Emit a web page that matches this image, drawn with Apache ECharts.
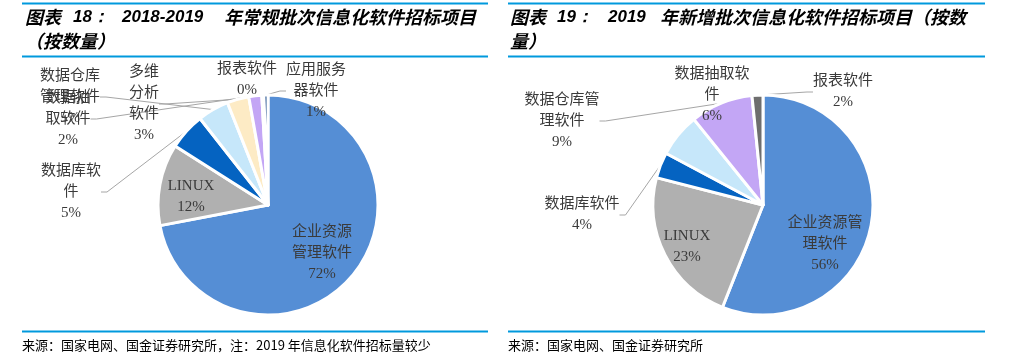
<!DOCTYPE html>
<html><head><meta charset="utf-8">
<script src="https://cdn.jsdelivr.net/npm/echarts@6/dist/echarts.min.js"></script>
<style>html,body{margin:0;padding:0;background:#fff}#c{width:1012px;height:355px}</style>
</head><body><div id="c"></div>
<script>
// ---- data ----
const leftNames = ['企业资源管理软件','LINUX','数据库软件','数据仓库管理软件','多维分析软件','数据抽取软件','报表软件','应用服务器软件'];
const leftValues = [72, 12, 5.4, 4.6, 3.2, 1.9, 0.3, 0.6];
const leftLabelText = ['企业资源\n管理软件','LINUX','数据库软\n件','数据仓库\n管理软件','多维\n分析\n软件','数据抽\n取软件','报表软件','应用服务\n器软件'];
const rightNames = ['企业资源管理软件','LINUX','数据库软件','数据抽取软件','数据仓库管理软件','报表软件'];
const rightValues = [56, 23, 3.8, 6.4, 9.2, 1.6];
const rightLabelText = ['企业资源管\n理软件','LINUX','数据库软件','数据抽取软\n件','数据仓库管\n理软件','报表软件'];
const leftTitle = ['图表','18：','2018-2019','年常规批次信息化软件招标项目','（按数量）'];
const rightTitle = ['图表','19：','2019','年新增批次信息化软件招标项目（按数','量）'];
const leftSource = '来源：国家电网、国金证券研究所，注：2019 年信息化软件招标量较少';
const rightSource = '来源：国家电网、国金证券研究所';

// ---- styles / layout ----
const leftColors = ['#558ED5','#B0B0B0','#0563C1','#C6E7FA','#FDEBC5','#C3A6F5','#8C8C8C','#1F4E8C'];
const rightColors = ['#558ED5','#B0B0B0','#0563C1','#C6E7FA','#C3A6F5','#6E6E6E'];
const leftLabelPos = [[322,253],[191,197],[71,192],[70,97],[144,104],[68,119],[247,80],[316,91]];
const rightLabelPos = [[825,244],[687,247],[582,215],[712,95],[562,121],[843,92]];
const leftNoLine = [0,1,6];
const rightNoLine = [0,1,3];
const blue = '#0099DD';
const labelFont = '"Liberation Serif", "Noto Sans CJK SC", serif';

function buildData(names, values, colors, texts, noLine) {
  return names.map((n, i) => ({
    name: n, value: values[i],
    itemStyle: { color: colors[i] },
    label: { position: noLine.indexOf(i) >= 0 ? 'inside' : 'outside', formatter: p => texts[p.dataIndex] + '\n' + Math.round(p.percent) + '%' },
    labelLine: { show: noLine.indexOf(i) < 0 }
  }));
}

function pieSeries(center, data, pos) {
  return {
    type: 'pie', center: center, radius: 110, startAngle: 90, clockwise: true,
    avoidLabelOverlap: false, animation: false,
    itemStyle: { borderColor: '#fff', borderWidth: 3 },
    label: { color: '#3a3a3a', fontSize: 15, fontFamily: labelFont, lineHeight: 21, align: 'center' },
    labelLine: { length: 10, length2: 6, lineStyle: { color: '#A6A6A6', width: 1 } },
    labelLayout: p => ({ x: pos[p.dataIndex][0], y: pos[p.dataIndex][1], align: 'center', verticalAlign: 'middle' }),
    emphasis: { disabled: true },
    data: data
  };
}

const cjkTitle = { fill: '#000', font: 'italic bold 18px "Noto Sans CJK SC"' };
const numTitle = { fill: '#000', font: 'italic bold 17px "Liberation Sans", Arial' };
function t(x, y, text, st) { return { type: 'text', x: x, y: y, style: Object.assign({ text: text, textVerticalAlign: 'middle' }, st) }; }
function ln(x1, y, x2) { return { type: 'line', shape: { x1: x1, y1: y, x2: x2, y2: y }, style: { stroke: blue, lineWidth: 2 } }; }

const graphics = [
  ln(22, 3.5, 488), ln(22, 56.5, 488), ln(508, 3.5, 985), ln(508, 56.5, 985),
  ln(22, 331.5, 488), ln(508, 331.5, 985),
  t(25, 17, leftTitle[0], cjkTitle), t(73, 17, leftTitle[1], numTitle), t(122, 17, leftTitle[2], numTitle),
  t(224, 17, leftTitle[3], cjkTitle), t(25, 41, leftTitle[4], cjkTitle),
  t(510, 17, rightTitle[0], cjkTitle), t(557, 17, rightTitle[1], numTitle), t(608, 17, rightTitle[2], numTitle),
  t(660, 17, rightTitle[3], cjkTitle), t(510, 41, rightTitle[4], cjkTitle),
  t(22, 345, leftSource, { fill: '#000', font: '13px "Noto Sans CJK SC"' }),
  t(508, 345, rightSource, { fill: '#000', font: '13px "Noto Sans CJK SC"' })
];

const chart = echarts.init(document.getElementById('c'), null, { renderer: 'canvas' });
chart.setOption({
  backgroundColor: '#fff',
  animation: false,
  graphic: graphics,
  series: [
    pieSeries([268, 205], buildData(leftNames, leftValues, leftColors, leftLabelText, leftNoLine), leftLabelPos),
    pieSeries([763, 205], buildData(rightNames, rightValues, rightColors, rightLabelText, rightNoLine), rightLabelPos)
  ]
});
</script></body></html>
